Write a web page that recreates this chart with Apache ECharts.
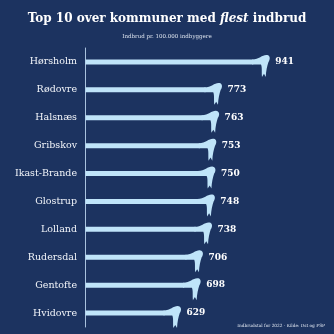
<!DOCTYPE html>
<html>
<head>
<meta charset="utf-8">
<script src="https://cdn.jsdelivr.net/npm/echarts@6/dist/echarts.min.js"></script>
<style>
html,body{margin:0;padding:0;background:#1c3360;}
#c{width:334px;height:334px;}
</style>
</head>
<body>
<div id="c"></div>
<script>
const categories = ['Hørsholm','Rødovre','Halsnæs','Gribskov','Ikast-Brande','Glostrup','Lolland','Rudersdal','Gentofte','Hvidovre'];
const values = [941,773,763,753,750,748,738,706,698,629];
const titleParts = ['Top 10 over kommuner med ', 'flest', ' indbrud'];
const subtitle = 'Indbrud pr. 100.000 indbyggere';
const footer = 'Indbrudstal for 2022 · Kilde: Dst og FSP';

const BG = '#1c3360';
const BAR = '#bfe4f9';
const AXIS_MIN = 300;

const chart = echarts.init(document.getElementById('c'));
chart.setOption({
  backgroundColor: BG,
  animation: false,
  title: [{
    text: '{b|' + titleParts[0] + '}{i|' + titleParts[1] + '}{b|' + titleParts[2] + '}',
    left: 'center', top: 8,
    textStyle: {
      rich: {
        b: {fontFamily: 'DejaVu Serif', fontWeight: 'bold', fontSize: 12, color: '#ffffff'},
        i: {fontFamily: 'DejaVu Serif', fontWeight: 'bold', fontStyle: 'italic', fontSize: 12, color: '#ffffff'}
      }
    }
  }, {
    text: subtitle,
    left: 'center', top: 29,
    textStyle: {fontFamily: 'DejaVu Serif', fontWeight: 'normal', fontSize: 5.5, color: '#dfe6f0'}
  }],
  graphic: [{
    type: 'text', right: 9, top: 324,
    style: {text: footer, fill: '#dfe6f0', font: '4.3px "DejaVu Serif"'}
  }],
  grid: {left: 85, right: 50, top: 48, bottom: 7, containLabel: false},
  xAxis: {type: 'value', min: AXIS_MIN, max: 1000, show: false},
  yAxis: {
    type: 'category', data: categories, inverse: true,
    axisLine: {show: true, lineStyle: {color: '#a9c2de', width: 1}},
    axisTick: {show: false},
    axisLabel: {color: '#f2f5fa', fontFamily: 'DejaVu Serif', fontSize: 9.5, margin: 8}
  },
  series: [{
    type: 'custom',
    data: values.map((v, i) => [v, i]),
    encode: {x: 0, y: 1},
    renderItem: function (params, api) {
      const v = api.value(0), idx = api.value(1);
      const end = api.coord([v, idx]);
      const start = api.coord([AXIS_MIN, idx]);
      const hx = end[0], cy = end[1], x0 = start[0] + 0.5;
      const k = 1.25;
      const P = (dx, dy) => (hx + dx * k) + ' ' + (cy + dy * k);
      const p = [
        'M', (hx - 15) + ' ' + (cy - 2.5),
        'C', P(-6, -2.2), P(-4, -6), P(0, -5.5),
        'C', P(2.5, -5), P(2.5, -2), P(1, 0),
        'C', P(0, 3), P(-1, 7), P(-1.2, 12),
        'L', P(-2.6, 9.5),
        'L', P(-4.2, 12),
        'C', P(-4.5, 7), P(-4, 4), P(-5, 2),
        'L', (hx - 15) + ' ' + (cy + 2.5), 'Z'
      ].join(' ');
      return {
        type: 'group',
        children: [{
          type: 'rect',
          shape: {x: x0, y: cy - 2.5, width: hx - 14 - x0, height: 5},
          style: {fill: BAR}
        }, {
          type: 'path',
          shape: {pathData: p},
          style: {fill: BAR}
        }, {
          type: 'text',
          style: {
            text: String(v), x: hx + 8, y: cy,
            verticalAlign: 'middle', align: 'left',
            fill: '#ffffff', font: 'bold 9px "DejaVu Serif"'
          }
        }]
      };
    }
  }]
});
</script>
</body>
</html>
